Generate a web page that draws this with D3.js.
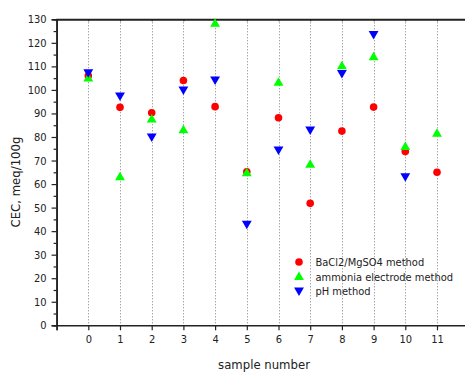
<!DOCTYPE html>
<html><head><meta charset="utf-8">
<script src="https://cdn.jsdelivr.net/npm/d3@7"></script>
<style>
html,body{margin:0;padding:0;background:#fff;}
svg{display:block;}
text{font-family:"DejaVu Sans Condensed","DejaVu Sans",sans-serif;fill:#222;}
</style></head>
<body>
<script>
const samples = [0,1,2,3,4,5,6,7,8,9,10,11];
const bacl2   = [106,92.6,90.3,104,92.9,65.2,88.2,51.8,82.5,92.7,73.8,65];
const ammonia = [105,63.1,87.6,83,128.3,64.8,103.2,68.4,110.2,114.1,75.9,81.6];
const phMeth  = [107.3,97.4,80,100,104.2,43,74.5,83,107,123.6,63.1,null];
const yTicks  = [0,10,20,30,40,50,60,70,80,90,100,110,120,130];
const seriesNames = ["BaCl2/MgSO4 method","ammonia electrode method","pH method"];

const W = 465, H = 372;
const svg = d3.select("body").append("svg").attr("width",W).attr("height",H);

const x = d3.scaleLinear().domain([-1,12]).range([56.6,468.7]);
const y = d3.scaleLinear().domain([0,130]).range([325.3,19.3]);

// vertical dotted grid
svg.append("g").selectAll("line").data(samples).join("line")
  .attr("x1",d=>Math.round(x(d))+0.5).attr("x2",d=>Math.round(x(d))+0.5)
  .attr("y1",y(130)).attr("y2",y(0))
  .attr("stroke","#808080").attr("stroke-width",1).attr("stroke-dasharray","1,2");

// bottom axis
const xb = svg.append("g").attr("transform",`translate(0,${y(0)})`)
  .call(d3.axisBottom(x).tickValues(d3.range(-1,13)).tickFormat(d=>(d>=0&&d<=11)?d:"").tickSize(5).tickPadding(5));
// top axis
const xt = svg.append("g").attr("transform",`translate(0,${y(130)})`)
  .call(d3.axisBottom(x).tickValues(samples).tickFormat("").tickSize(2));
// left axis (minor)
svg.append("g").attr("transform",`translate(${x(-1)},0)`)
  .call(d3.axisLeft(y).tickValues(d3.range(5,130,10)).tickFormat("").tickSize(3));
// left axis major
const yl = svg.append("g").attr("transform",`translate(${x(-1)},0)`)
  .call(d3.axisLeft(y).tickValues(yTicks).tickSize(5).tickPadding(5));

svg.selectAll(".domain").attr("stroke","#222").attr("stroke-width",1.6);
svg.selectAll(".tick line").attr("stroke","#222").attr("stroke-width",1.2);
xb.selectAll("text").attr("font-size","11px").attr("font-family",null).style("fill","#222");
yl.selectAll("text").attr("font-size","11px").attr("font-family",null).style("fill","#222");
xt.select(".domain").attr("stroke-width",2);

// axis titles
svg.append("text").attr("x",264).attr("y",368.5).attr("text-anchor","middle")
  .attr("font-size","13px").text("sample number");
svg.append("text").attr("transform","translate(19.5,182) rotate(-90)").attr("text-anchor","middle")
  .attr("font-size","13px").text("CEC, meq/100g");

// markers
const triUp = d3.symbol().type(d3.symbolTriangle).size(42);
const red="#ff0000", green="#00ff00", blue="#0000ff";

const g = svg.append("g");
g.selectAll(".r").data(samples.map((s,i)=>[s,bacl2[i]]).filter(d=>d[1]!=null)).join("circle")
  .attr("cx",d=>x(d[0])).attr("cy",d=>y(d[1])).attr("r",3.8).attr("fill",red);
g.selectAll(".g").data(samples.map((s,i)=>[s,ammonia[i]]).filter(d=>d[1]!=null)).join("path")
  .attr("d",triUp).attr("transform",d=>`translate(${x(d[0])},${y(d[1])+0.6})`).attr("fill",green);
g.selectAll(".b").data(samples.map((s,i)=>[s,phMeth[i]]).filter(d=>d[1]!=null)).join("path")
  .attr("d",triUp).attr("transform",d=>`translate(${x(d[0])},${y(d[1])-0.6}) rotate(180)`).attr("fill",blue);

// legend
const legY = [262,276.5,291];
const lg = svg.append("g");
lg.append("circle").attr("cx",299).attr("cy",legY[0]).attr("r",3.8).attr("fill",red);
lg.append("path").attr("d",triUp).attr("transform",`translate(299,${legY[1]+0.6})`).attr("fill",green);
lg.append("path").attr("d",triUp).attr("transform",`translate(299,${legY[2]-0.6}) rotate(180)`).attr("fill",blue);
lg.selectAll("text").data(seriesNames).join("text")
  .attr("x",315.5).attr("y",(d,i)=>legY[i]+4).attr("font-size","11px").text(d=>d);
</script>
</body></html>
